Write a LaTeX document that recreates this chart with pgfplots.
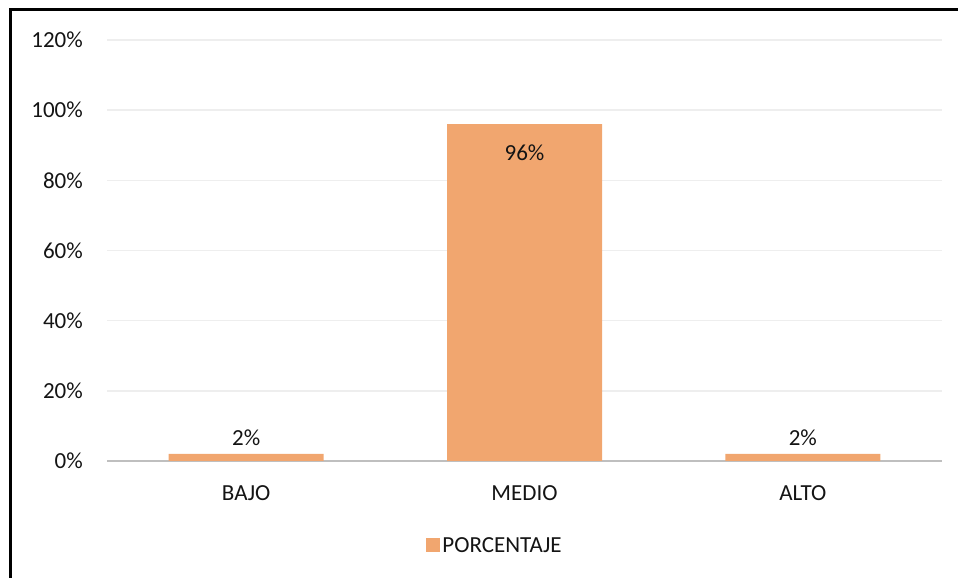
\documentclass[border=0pt]{standalone}
\usepackage{pgfplots}
\pgfplotsset{compat=1.18}
\usepackage{fontspec}
\setmainfont{Carlito}
\definecolor{barc}{RGB}{241,166,111}
\definecolor{gridc}{RGB}{238,238,238}
\definecolor{axc}{RGB}{191,191,191}
\definecolor{txt}{RGB}{20,20,20}
\newcommand{\cf}{\fontsize{23bp}{27bp}\selectfont}
\begin{document}
\begin{tikzpicture}[x=1bp,y=1bp]
\useasboundingbox (0,0) rectangle (958,578);
\draw[line width=3bp] (10.7,-5) -- (10.7,568.7) -- (965,568.7);
\begin{axis}[
  at={(107bp,117bp)}, anchor=south west,
  width=835bp, height=421bp, scale only axis,
  xmin=-0.5, xmax=2.5, ymin=0, ymax=120,
  xtick={0,1,2}, xticklabels={BAJO,MEDIO,ALTO},
  ytick={0,20,...,120},
  yticklabel={\pgfmathprintnumber{\tick}\%},
  /pgf/number format/assume math mode=true,
  axis x line*=bottom, axis y line*=left,
  x axis line style={axc, line width=2.5bp, -},
  y axis line style={draw=none},
  ymajorgrids, grid style={gridc, line width=1.5bp},
  major tick length=0, tick style={draw=none},
  tick label style={font=\cf, text=txt, inner sep=0pt},
  xticklabel style={anchor=base, yshift=-39.7bp},
  yticklabel style={anchor=base east, xshift=-24bp, yshift=-7.7bp},
  legend style={at={(0.4647,-0.202)}, anchor=center, draw=none, fill=none,
    font=\cf, text=txt, inner sep=0pt},
]
\addplot[ybar, fill=barc, draw=none, bar width=155bp, bar shift=0pt,
  legend image code/.code={\fill[barc] (0bp,-6.3bp) rectangle (14bp,7.7bp);},
  nodes near coords={\pgfmathprintnumber{\pgfplotspointmeta}\%},
  visualization depends on={\thisrow{off}\as\off},
  every node near coord/.append style={anchor=base, yshift=\off bp, font=\cf, text=txt, inner sep=0pt}]
  table {
x y off
0 2 8.3
1 96 -36
2 2 8.3
};
\addlegendentry{PORCENTAJE}
\end{axis}
\end{tikzpicture}
\end{document}
